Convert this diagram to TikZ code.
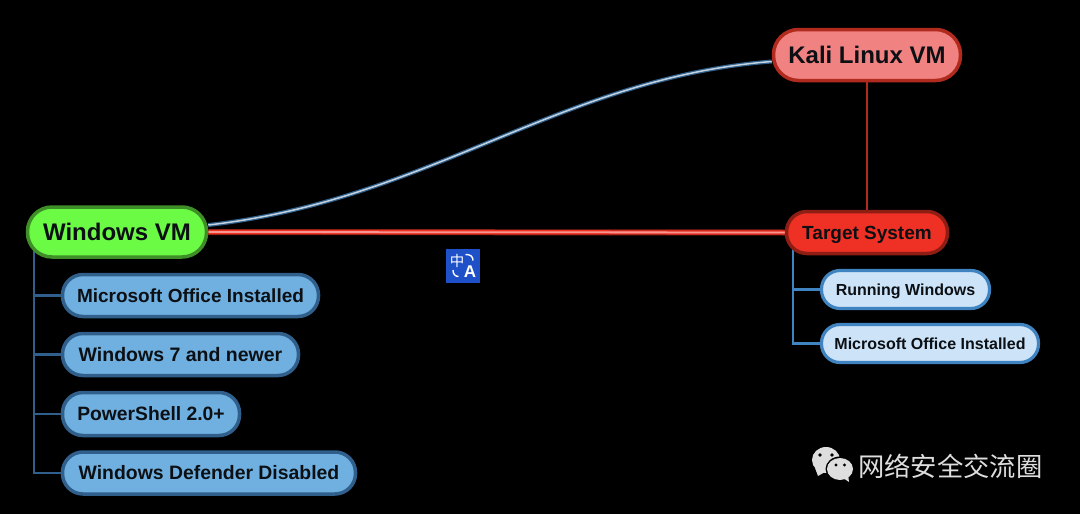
\documentclass[tikz,border=0pt]{standalone}
\usepackage{fontspec}
\setmainfont{Liberation Sans}
\newfontfamily\cjkfont{Noto Sans CJK SC}
\definecolor{winfill}{HTML}{6CFB45}
\definecolor{winedge}{HTML}{3F8F28}
\definecolor{kalifill}{HTML}{F08282}
\definecolor{kaliedge}{HTML}{B02A1E}
\definecolor{tgtfill}{HTML}{EE3124}
\definecolor{tgtedge}{HTML}{8E1E14}
\definecolor{leaffill}{HTML}{6FB0E0}
\definecolor{leafedge}{HTML}{2F5F8A}
\definecolor{lightfill}{HTML}{CCE3F8}
\definecolor{lightedge}{HTML}{3F83C0}
\definecolor{iconblue}{HTML}{1E50C8}
\definecolor{markgray}{HTML}{DEDEDE}
\definecolor{textink}{HTML}{0C1014}
\definecolor{curvecore}{HTML}{C4D2E0}
\pgfdeclarelayer{links}
\pgfdeclarelayer{ground}
\pgfsetlayers{ground,links,main}
\tikzset{
  x=1pt,y=-1pt,
  pill/.style={draw,rounded corners=#1,inner sep=0pt,text=textink,text depth=0pt},
  winbox/.style={pill=24.5pt,text height=17.2pt,line width=3.5pt,draw=winedge,fill=winfill,font=\bfseries\fontsize{24}{28}\selectfont},
  kalibox/.style={pill=25pt,text height=17.2pt,line width=3.5pt,draw=kaliedge,fill=kalifill,font=\bfseries\fontsize{24}{28}\selectfont},
  tgtbox/.style={pill=20.5pt,text height=13.6pt,line width=3.5pt,draw=tgtedge,fill=tgtfill,font=\bfseries\fontsize{19}{23}\selectfont},
  leafbox/.style={pill=20.5pt,text height=13.6pt,line width=3.5pt,draw=leafedge,fill=leaffill,font=\bfseries\fontsize{#1}{23}\selectfont},
  lightbox/.style={pill=18.5pt,text height=11.5pt,line width=3.2pt,draw=lightedge,fill=lightfill,font=\bfseries\fontsize{16}{20}\selectfont},
  leftbus/.style={draw=leafedge,line width=2.2pt},
  rightbus/.style={draw=lightedge,line width=2.2pt},
}
\begin{document}
\begin{tikzpicture}
\useasboundingbox (0,0) rectangle (1080,514);
\begin{pgfonlayer}{ground}
\fill[black] (0,0) rectangle (1080,514);
\end{pgfonlayer}

% nodes
\node[winbox,minimum width=179pt,minimum height=50pt] (win) at (117,232) {Windows VM};
\node[kalibox,minimum width=187pt,minimum height=51pt] (kali) at (867,55) {Kali Linux VM};
\node[tgtbox,minimum width=161pt,minimum height=42pt] (tgt) at (867,232.5) {Target System};
\node[leafbox=19,minimum width=256pt,minimum height=42pt] (l1) at (190.5,295.5) {Microsoft Office Installed};
\node[leafbox=19.5,minimum width=236pt,minimum height=42pt] (l2) at (180.5,354.5) {Windows 7 and newer};
\node[leafbox=19.3,minimum width=177pt,minimum height=43pt] (l3) at (151,414) {PowerShell 2.0+};
\node[leafbox=19.4,minimum width=293pt,minimum height=42pt] (l4) at (209,473) {Windows Defender Disabled};
\node[lightbox,minimum width=168pt,minimum height=38pt] (r1) at (905.5,289.5) {Running Windows};
\node[lightbox,minimum width=217pt,minimum height=38pt] (r2) at (930,343.5) {Microsoft Office Installed};

% connectors
\begin{pgfonlayer}{links}
\coordinate (wa) at ([yshift=7pt]win.east);
\coordinate (ka) at ([yshift=-6.5pt]kali.west);
\draw[line width=4pt,draw=leafedge] (wa) .. controls (430,200) and (560,78) .. (ka);
\draw[line width=1.5pt,draw=curvecore] (wa) .. controls (430,200) and (560,78) .. (ka);
\draw[line width=6pt,draw=tgtedge] (win.east) -- (tgt.west);
\draw[line width=4.2pt,draw=tgtfill] (win.east) -- (tgt.west);
\draw[line width=1.8pt,draw=white!50!tgtfill] (win.east) -- (tgt.west);
\draw[line width=2.2pt,draw=kaliedge] (kali.south) -- (tgt.north);
\coordinate (wb) at ([xshift=-83pt,yshift=10pt]win.south);
\coordinate (tb) at ([xshift=-74pt,yshift=10pt]tgt.south);
\draw[leftbus] (wb) |- (l4.west);
\draw[leftbus] (wb |- l1.west) -- (l1.west);
\draw[leftbus] (wb |- l2.west) -- (l2.west);
\draw[leftbus] (wb |- l3.west) -- (l3.west);
\draw[rightbus] (tb) |- (r2.west);
\draw[rightbus] (tb |- r1.west) -- (r1.west);
\end{pgfonlayer}

% translate icon
\fill[iconblue] (446,249) rectangle (480,283);
\node[inner sep=0pt,text=white,font=\cjkfont\fontsize{14.5}{14.5}\selectfont] (zh) at (457,260.5) {中};
\node[inner sep=0pt,text=white,text height=12.2pt,text depth=0pt,font=\bfseries\fontsize{17}{17}\selectfont] (en) at (470,271) {A};
\draw[white,line width=1.4pt] (465.5,254.5) .. controls (470,254.5) and (473,256) .. (473,260.5);
\draw[white,line width=1.4pt] (453,270) .. controls (453,274) and (455,276.5) .. (458.5,276.5);

% wechat mark
\fill[markgray] (826,460) ellipse [x radius=14pt,y radius=13pt];
\fill[markgray] (815,468) -- (818,476) -- (825,472) -- cycle;
\fill[black] (840,469) ellipse [x radius=14.5pt,y radius=12.5pt];
\fill[markgray] (840,469) ellipse [x radius=13pt,y radius=11pt];
\fill[markgray] (843,478) -- (849,482) -- (848,474) -- cycle;
\fill[black] (820,455) circle (1.8pt) (832,455) circle (1.8pt);
\fill[black] (836,465) circle (1.6pt) (844.5,465) circle (1.6pt);
\node[inner sep=0pt,anchor=west,text=markgray,font=\cjkfont\fontsize{26.3}{28}\selectfont] (mark) at (858,466) {网络安全交流圈};
\end{tikzpicture}
\end{document}
